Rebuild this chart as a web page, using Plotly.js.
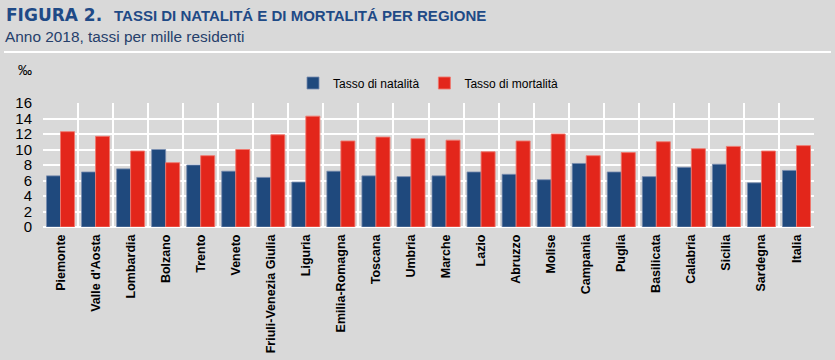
<!DOCTYPE html>
<html>
<head>
<meta charset="utf-8">
<script src="https://cdn.plot.ly/plotly-3.0.1.min.js"></script>
<style>html,body{margin:0;padding:0;background:#d9d9d9;}#chart{width:835px;height:360px;}</style>
</head>
<body>
<div id="chart"></div>
<script>
const regioni = ["Piemonte","Valle d'Aosta","Lombardia","Bolzano","Trento","Veneto","Friuli-Venezia Giulia","Liguria","Emilia-Romagna","Toscana","Umbria","Marche","Lazio","Abruzzo","Molise","Campania","Puglia","Basilicata","Calabria","Sicilia","Sardegna","Italia"];
const natalita = [6.6,7.1,7.5,10.0,8.0,7.2,6.4,5.8,7.2,6.6,6.5,6.6,7.1,6.8,6.1,8.2,7.1,6.5,7.7,8.1,5.7,7.3];
const mortalita = [12.3,11.7,9.8,8.3,9.2,10.0,11.9,14.3,11.1,11.6,11.4,11.2,9.7,11.1,12.0,9.2,9.6,11.0,10.1,10.4,9.8,10.5];
const yTicks = [0,2,4,6,8,10,12,14,16];

const L = 43, R = 814, T = 103, B = 227;
const px = x => (x - L) / (R - L);
const py = y => (B - y) / (B - T);

const arial = "Liberation Sans, Arial, sans-serif";

const traces = [
  {type:"bar", name:"Tasso di natalità", x:regioni, y:natalita,
   marker:{color:"#1f497d", line:{color:"rgba(120,140,175,0.8)", width:1}}},
  {type:"bar", name:"Tasso di mortalità", x:regioni, y:mortalita,
   marker:{color:"#e3261b", line:{color:"rgba(240,120,110,0.9)", width:1}}}
];

const layout = {
  width:835, height:360,
  margin:{l:L, r:835-R, t:T, b:360-B, pad:0},
  paper_bgcolor:"#d9d9d9", plot_bgcolor:"#d9d9d9",
  barmode:"group", bargap:0.2, bargroupgap:0,
  showlegend:true,
  legend:{orientation:"h", x:0.5, xanchor:"center", y:py(83), yanchor:"middle",
          font:{family:arial, size:12, color:"#000"}, bgcolor:"rgba(0,0,0,0)",
          itemwidth:30, tracegroupgap:0},
  xaxis:{type:"category", tickson:"boundaries", showgrid:true, gridcolor:"#ffffff", gridwidth:2,
         tickangle:-90, ticks:"", showline:false, zeroline:false, ticklabelstandoff:4,
         tickfont:{family:arial, size:12.5, color:"#000", weight:"bold"}, automargin:false},
  yaxis:{range:[0,16], tickvals:yTicks, ticktext:yTicks.map(String), showgrid:true, gridcolor:"#ffffff", gridwidth:2,
         zeroline:true, zerolinecolor:"#ffffff", zerolinewidth:2, ticks:"", showline:false, ticklabelstandoff:10,
         tickfont:{family:arial, size:15, color:"#000"}, automargin:false, fixedrange:true},
  annotations:[
    {xref:"paper", yref:"paper", x:px(4), y:py(15), xanchor:"left", yanchor:"middle", showarrow:false,
     text:"<b>FIGURA 2.</b>", font:{family:"DejaVu Sans, Arial Black, sans-serif", size:17, color:"#1f4a86"}},
    {xref:"paper", yref:"paper", x:px(112), y:py(15), xanchor:"left", yanchor:"middle", showarrow:false,
     text:"<b>TASSI DI NATALITÁ E DI MORTALITÁ PER REGIONE</b>", font:{family:arial, size:15, color:"#1f4a86"}},
    {xref:"paper", yref:"paper", x:px(3), y:py(36), xanchor:"left", yanchor:"middle", showarrow:false,
     text:"Anno 2018, tassi per mille residenti", font:{family:arial, size:15.4, color:"#26406b"}},
    {xref:"paper", yref:"paper", x:px(16), y:py(70), xanchor:"left", yanchor:"middle", showarrow:false,
     text:"‰", font:{family:arial, size:14, color:"#000"}}
  ],
  shapes:[
    {type:"line", xref:"paper", yref:"paper", x0:px(4), x1:px(831), y0:py(52), y1:py(52),
     line:{color:"#ffffff", width:2}}
  ]
};

Plotly.newPlot("chart", traces, layout, {staticPlot:true, displayModeBar:false});
</script>
</body>
</html>
